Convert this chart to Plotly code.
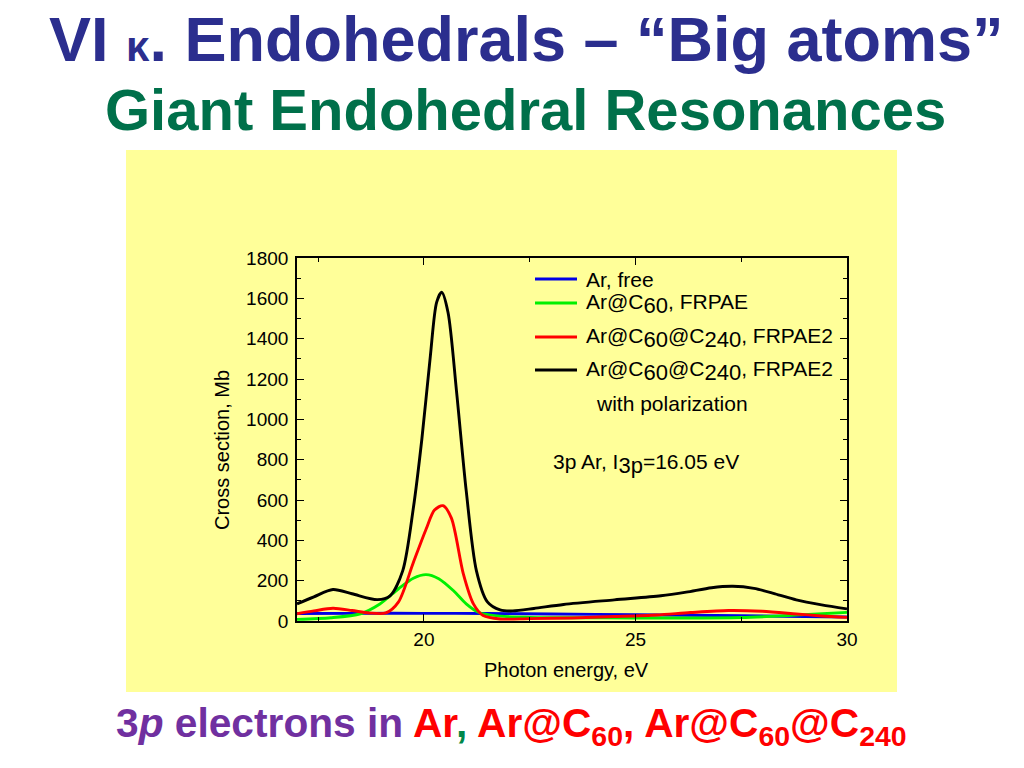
import plotly.graph_objects as go

# ---------------- data ----------------
e_free = [17.0, 18.5, 20.0, 21.5, 23.0, 25.0, 27.5, 30.0]
s_free = [37, 38, 38, 37, 35, 31, 26, 20]

e_c60 = [17.0, 17.8, 18.5, 18.95, 19.4, 19.75, 20.05, 20.35, 20.7, 21.0, 21.3, 21.8,
         22.5, 23.5, 25.0, 26.5, 27.5, 28.5, 29.3, 30.0]
s_c60 = [8, 16, 36, 83, 160, 212, 230, 210, 150, 85, 42, 24,
         18, 16, 15, 15, 17, 26, 35, 43]

e_c240 = [17.0, 17.4, 17.85, 18.3, 18.7, 19.1, 19.4, 19.75, 20.05, 20.25, 20.45, 20.65,
          20.93, 21.17, 21.4, 21.8, 22.5, 23.5, 24.5, 25.5, 26.3, 27.2, 28.0, 28.8, 29.4, 30.0]
s_c240 = [36, 50, 63, 52, 40, 40, 95, 290, 455, 550, 572, 510,
          235, 85, 27, 10, 12, 15, 22, 30, 42, 52, 48, 35, 25, 18]

e_pol = [17.0, 17.4, 17.85, 18.3, 18.9, 19.2, 19.5, 19.75, 19.95, 20.15, 20.3, 20.42,
         20.57, 20.77, 21.0, 21.24, 21.5, 21.8, 22.1, 22.6, 23.3, 24.5, 25.6, 26.2,
         26.8, 27.3, 27.8, 28.3, 28.8, 29.4, 30.0]
s_pol = [85, 120, 156, 135, 106, 125, 250, 560, 900, 1310, 1580, 1630,
         1530, 1140, 645, 250, 95, 55, 50, 62, 82, 105, 125, 143,
         165, 172, 162, 135, 105, 80, 60]

SUB = "<sub><span style='font-size:22px'>%s</span></sub>"
series_names = ["Ar, free",
                "Ar@C" + SUB % "60" + ", FRPAE",
                "Ar@C" + SUB % "60" + "@C" + SUB % "240" + ", FRPAE2",
                "Ar@C" + SUB % "60" + "@C" + SUB % "240" + ", FRPAE2"]
series_colors = ["#0000E6", "#00F000", "#FF0000", "#000000"]

x_range = [17, 30]
y_range = [0, 1800]

FONT = "Liberation Sans, Arial, sans-serif"
W, H = 1024, 768


def px(x):
    return x / W


def py(y):
    return 1 - y / H


fig = go.Figure()
for xs, ys, nm, col in zip([e_free, e_c60, e_c240, e_pol],
                           [s_free, s_c60, s_c240, s_pol],
                           series_names, series_colors):
    fig.add_trace(go.Scatter(x=xs, y=ys, mode="lines", name=nm,
                             line=dict(color=col, width=2.9, shape="spline", smoothing=0.8),
                             showlegend=False, hoverinfo="skip"))

axis_common = dict(showline=True, linecolor="black", linewidth=1.6, mirror="allticks",
                   ticks="inside", ticklen=7, tickwidth=1.4, tickcolor="black",
                   showgrid=False, zeroline=False, automargin=False,
                   tickfont=dict(family=FONT, size=19, color="black"))

fig.update_xaxes(range=x_range, domain=[px(297), px(847)], tick0=0, dtick=5,
                 minor=dict(dtick=2.5, ticks="inside", ticklen=4, tickwidth=1.2,
                            tickcolor="black", showgrid=False),
                 **axis_common)
fig.update_yaxes(range=y_range, domain=[py(621), py(258)], tick0=0, dtick=200,
                 minor=dict(dtick=100, ticks="inside", ticklen=4, tickwidth=1.2,
                            tickcolor="black", showgrid=False),
                 ticklabelstandoff=3, **axis_common)

shapes = [dict(type="rect", xref="paper", yref="paper", x0=px(126), x1=px(897),
               y0=py(692), y1=py(150), fillcolor="#FFFF99", line=dict(width=0),
               layer="below")]

annotations = []


def txt(x, y, text, size, color="black", xanchor="center", yanchor="middle",
        angle=0, bold=False):
    annotations.append(dict(x=px(x), y=py(y), xref="paper", yref="paper",
                            text=("<b>%s</b>" % text) if bold else text,
                            showarrow=False, xanchor=xanchor, yanchor=yanchor,
                            textangle=angle,
                            font=dict(family=FONT, size=size, color=color)))


# legend (manual, to match the original layout)
leg_rows = [279, 303, 337, 370]
leg_text_y = [279, 304, 338, 371]
for yrow, ytxt, nm, col in zip(leg_rows, leg_text_y, series_names, series_colors):
    shapes.append(dict(type="line", xref="paper", yref="paper", x0=px(535), x1=px(577),
                       y0=py(yrow), y1=py(yrow), line=dict(color=col, width=2.8)))
    txt(584, ytxt, nm, 21, xanchor="left")
txt(594, 403, "with polarization", 21, xanchor="left")
txt(551, 464, "3p Ar, I" + SUB % "3p" + "=16.05 eV", 21, xanchor="left")

# axis titles
txt(222, 450, "Cross section, Mb", 20, angle=-90)
txt(566, 670, "Photon energy, eV", 20)

# slide titles
txt(526, 39, "VI <span style='font-size:42px'>κ</span>. Endohedrals – “Big atoms”", 63,
    color="#2B2E8E", bold=True)
txt(525, 109, "Giant Endohedral Resonances", 58, color="#00704A", bold=True)

bottom = ("<span style='color:#7030A0'>3<i>p</i> electrons in </span>"
          "<span style='color:#FF0000'>Ar</span>"
          "<span style='color:#00884A'>,</span>"
          "<span style='color:#FF0000'> Ar@C<sub>60</sub>, Ar@C<sub>60</sub>@C<sub>240</sub></span>")
txt(511, 726, bottom, 40.7, bold=True)

fig.update_layout(width=W, height=H, margin=dict(l=0, r=0, t=0, b=0, autoexpand=False),
                  paper_bgcolor="white", plot_bgcolor="#FFFF99",
                  shapes=shapes, annotations=annotations, showlegend=False,
                  font=dict(family=FONT))

fig.write_html("out.html", config={"displayModeBar": False},
               post_script="document.body.style.margin='0px';")
